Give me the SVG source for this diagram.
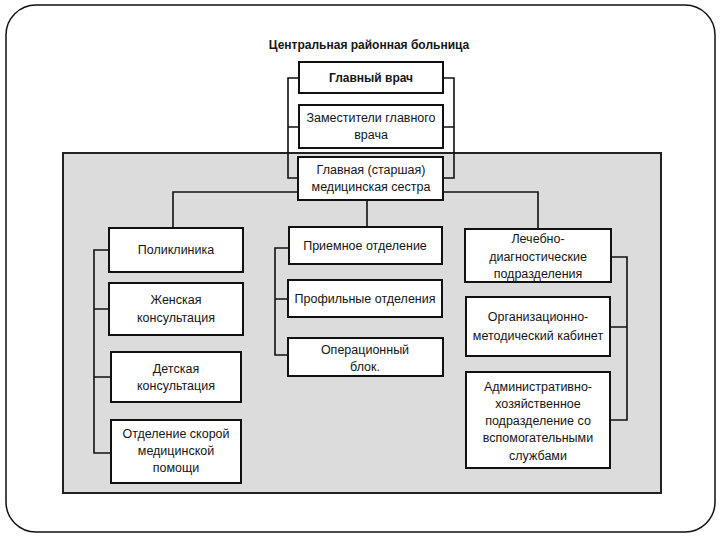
<svg xmlns="http://www.w3.org/2000/svg" width="720" height="540" viewBox="0 0 720 540">
<style>
.box{fill:#fff;stroke:#111;stroke-width:2}
.t{font-family:"Liberation Sans",Arial,sans-serif;font-size:12.5px;fill:#151515;text-anchor:middle}
.b{font-weight:bold;font-size:12px}
.c{fill:none;stroke:#111;stroke-width:1.6}
</style>
<rect x="6" y="5" width="709" height="527" rx="30" ry="30" fill="#fff" stroke="#111" stroke-width="1.5"/>
<rect id="panel" x="63" y="153" width="598" height="340" fill="#dcdcdc" stroke="#222" stroke-width="2"/>
<text class="t b" x="369" y="49">Центральная районная больница</text>
<g id="connectors">
<path class="c" d="M299 78 H288 V178 H298 M288 127 H299"/>
<path class="c" d="M443 78 H454 V178 H443 M454 127 H443"/>
<path class="c" d="M298 192 H173 V228 M443 192 H538 V229 M367 200 V227"/>
<path class="c" d="M109 250 H94 V453 H111 M94 309 H109 M94 377 H111"/>
<path class="c" d="M289 248 H275 V355 H288 M275 299 H288"/>
<path class="c" d="M611 257 H627 V420 H610 M627 327 H610"/>
</g>
<g id="n1"><rect class="box" x="299" y="62" width="144" height="31"/><text class="t b" x="371" y="82">Главный врач</text></g>
<g id="n2"><rect class="box" x="299" y="105" width="144" height="43"/><text class="t" x="371" y="122">Заместители главного</text><text class="t" x="371" y="139">врача</text></g>
<g id="n3"><rect class="box" x="298" y="157" width="145" height="43"/><text class="t" x="371" y="174">Главная (старшая)</text><text class="t" x="371" y="191">медицинская сестра</text></g>
<g id="n4"><rect class="box" x="109" y="228" width="134" height="44"/><text class="t" x="176" y="254">Поликлиника</text></g>
<g id="n5"><rect class="box" x="109" y="283" width="134" height="52"/><text class="t" x="176" y="304">Женская</text><text class="t" x="176" y="322">консультация</text></g>
<g id="n6"><rect class="box" x="111" y="352" width="130" height="50"/><text class="t" x="176" y="373">Детская</text><text class="t" x="176" y="390">консультация</text></g>
<g id="n7"><rect class="box" x="111" y="420" width="130" height="63"/><text class="t" x="176" y="438">Отделение скорой</text><text class="t" x="176" y="455">медицинской</text><text class="t" x="176" y="472">помощи</text></g>
<g id="n8"><rect class="box" x="289" y="227" width="153" height="37"/><text class="t" x="365" y="250">Приемное отделение</text></g>
<g id="n9"><rect class="box" x="288" y="280" width="154" height="37"/><text class="t" x="365" y="303">Профильные отделения</text></g>
<g id="n10"><rect class="box" x="288" y="338" width="155" height="38"/><text class="t" x="365" y="354">Операционный</text><text class="t" x="365" y="371">блок.</text></g>
<g id="n11"><rect class="box" x="465" y="229" width="146" height="53"/><text class="t" x="538" y="243">Лечебно-</text><text class="t" x="538" y="261">диагностические</text><text class="t" x="538" y="278">подразделения</text></g>
<g id="n12"><rect class="box" x="466" y="297" width="144" height="59"/><text class="t" x="538" y="321">Организационно-</text><text class="t" x="538" y="340">методический кабинет</text></g>
<g id="n13"><rect class="box" x="466" y="372" width="144" height="96"/><text class="t" x="538" y="391">Административно-</text><text class="t" x="538" y="408">хозяйственное</text><text class="t" x="538" y="425">подразделение со</text><text class="t" x="538" y="442">вспомогательными</text><text class="t" x="538" y="460">службами</text></g>
</svg>
